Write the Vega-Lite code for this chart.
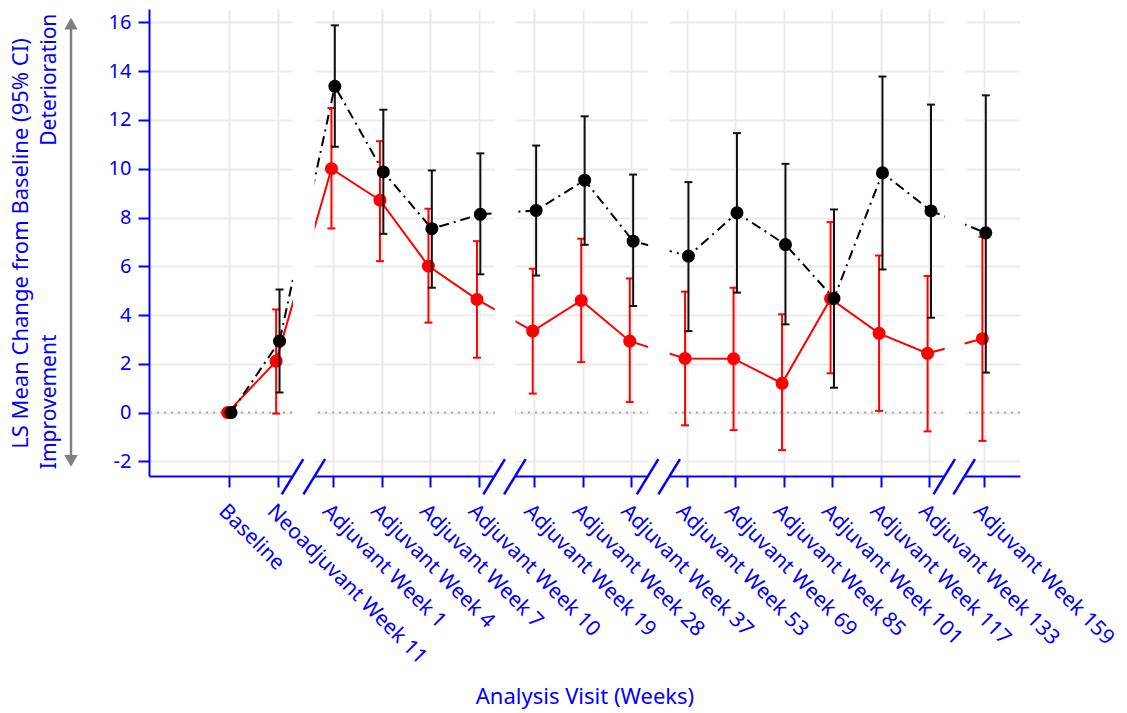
{
  "$schema": "https://vega.github.io/schema/vega-lite/v6.json",
  "width": 871,
  "height": 467,
  "autosize": {"type": "none"},
  "padding": {"left": 149, "top": 9, "right": 107, "bottom": 237},
  "config": {
    "view": {"stroke": null},
    "font": "Noto Sans",
    "axis": {
      "domainColor": "#0000ff", "domainWidth": 2,
      "tickColor": "#0000ff", "tickWidth": 2, "tickSize": 11,
      "labelColor": "#0000ff", "titleColor": "#0000ff",
      "labelFont": "Noto Sans", "titleFont": "Noto Sans",
      "labelFontSize": 20, "titleFontSize": 22, "titleFontWeight": "normal",
      "gridColor": "#ebebeb", "gridWidth": 2, "zindex": 0
    }
  },
  "datasets": {
    "visits": [
      {"visit": "Baseline", "pos": 0, "grp": "A", "mean": 0},
      {"visit": "Baseline", "pos": 0, "grp": "B", "mean": 0},
      {"visit": "Neoadjuvant Week 11", "pos": 1, "grp": "A", "mean": 2.11, "lo": -0.04, "hi": 4.23},
      {"visit": "Neoadjuvant Week 11", "pos": 1, "grp": "B", "mean": 2.93, "lo": 0.82, "hi": 5.05},
      {"visit": "Adjuvant Week 1", "pos": 2.14, "grp": "A", "mean": 10.0, "lo": 7.55, "hi": 12.49},
      {"visit": "Adjuvant Week 1", "pos": 2.14, "grp": "B", "mean": 13.38, "lo": 10.9, "hi": 15.88},
      {"visit": "Adjuvant Week 4", "pos": 3.14, "grp": "A", "mean": 8.71, "lo": 6.21, "hi": 11.13},
      {"visit": "Adjuvant Week 4", "pos": 3.14, "grp": "B", "mean": 9.87, "lo": 7.33, "hi": 12.42},
      {"visit": "Adjuvant Week 7", "pos": 4.14, "grp": "A", "mean": 6.01, "lo": 3.69, "hi": 8.36},
      {"visit": "Adjuvant Week 7", "pos": 4.14, "grp": "B", "mean": 7.54, "lo": 5.12, "hi": 9.93},
      {"visit": "Adjuvant Week 10", "pos": 5.14, "grp": "A", "mean": 4.64, "lo": 2.25, "hi": 7.03},
      {"visit": "Adjuvant Week 10", "pos": 5.14, "grp": "B", "mean": 8.13, "lo": 5.67, "hi": 10.63},
      {"visit": "Adjuvant Week 19", "pos": 6.29, "grp": "A", "mean": 3.34, "lo": 0.78, "hi": 5.9},
      {"visit": "Adjuvant Week 19", "pos": 6.29, "grp": "B", "mean": 8.29, "lo": 5.62, "hi": 10.95},
      {"visit": "Adjuvant Week 28", "pos": 7.29, "grp": "A", "mean": 4.6, "lo": 2.07, "hi": 7.13},
      {"visit": "Adjuvant Week 28", "pos": 7.29, "grp": "B", "mean": 9.53, "lo": 6.88, "hi": 12.15},
      {"visit": "Adjuvant Week 37", "pos": 8.29, "grp": "A", "mean": 2.93, "lo": 0.43, "hi": 5.5},
      {"visit": "Adjuvant Week 37", "pos": 8.29, "grp": "B", "mean": 7.03, "lo": 4.37, "hi": 9.76},
      {"visit": "Adjuvant Week 53", "pos": 9.43, "grp": "A", "mean": 2.22, "lo": -0.52, "hi": 4.96},
      {"visit": "Adjuvant Week 53", "pos": 9.43, "grp": "B", "mean": 6.42, "lo": 3.34, "hi": 9.45},
      {"visit": "Adjuvant Week 69", "pos": 10.43, "grp": "A", "mean": 2.21, "lo": -0.72, "hi": 5.12},
      {"visit": "Adjuvant Week 69", "pos": 10.43, "grp": "B", "mean": 8.19, "lo": 4.92, "hi": 11.46},
      {"visit": "Adjuvant Week 85", "pos": 11.43, "grp": "A", "mean": 1.2, "lo": -1.54, "hi": 4.03},
      {"visit": "Adjuvant Week 85", "pos": 11.43, "grp": "B", "mean": 6.89, "lo": 3.62, "hi": 10.2},
      {"visit": "Adjuvant Week 101", "pos": 12.43, "grp": "A", "mean": 4.67, "lo": 1.61, "hi": 7.81},
      {"visit": "Adjuvant Week 101", "pos": 12.43, "grp": "B", "mean": 4.68, "lo": 1.02, "hi": 8.33},
      {"visit": "Adjuvant Week 117", "pos": 13.43, "grp": "A", "mean": 3.25, "lo": 0.07, "hi": 6.44},
      {"visit": "Adjuvant Week 117", "pos": 13.43, "grp": "B", "mean": 9.83, "lo": 5.87, "hi": 13.78},
      {"visit": "Adjuvant Week 133", "pos": 14.43, "grp": "A", "mean": 2.43, "lo": -0.77, "hi": 5.6},
      {"visit": "Adjuvant Week 133", "pos": 14.43, "grp": "B", "mean": 8.27, "lo": 3.89, "hi": 12.63},
      {"visit": "Adjuvant Week 159", "pos": 15.56, "grp": "A", "mean": 3.03, "lo": -1.16, "hi": 7.21},
      {"visit": "Adjuvant Week 159", "pos": 15.56, "grp": "B", "mean": 7.37, "lo": 1.64, "hi": 13.01}
    ],
    "gaps": [
      {"g0": 1.313, "g1": 1.761},
      {"g0": 5.47, "g1": 5.897},
      {"g0": 8.633, "g1": 9.078},
      {"g0": 14.748, "g1": 15.16}
    ],
    "slashes": [
      {"s0": 1.08, "s1": 1.525}, {"s0": 1.528, "s1": 1.973},
      {"s0": 5.237, "s1": 5.682}, {"s0": 5.664, "s1": 6.109},
      {"s0": 8.4, "s1": 8.845}, {"s0": 8.845, "s1": 9.29},
      {"s0": 14.515, "s1": 14.96}, {"s0": 14.927, "s1": 15.372}
    ]
  },
  "layer": [
    {
      "data": {"values": [{"ref": 0}]},
      "mark": {"type": "rule", "color": "#a6a6a6", "strokeDash": [2, 5], "strokeWidth": 2},
      "encoding": {
        "y": {"field": "ref", "type": "quantitative", "scale": {"domain": [-2.6, 16.55], "nice": false, "zero": false},
          "axis": {"values": [-2, 0, 2, 4, 6, 8, 10, 12, 14, 16], "grid": true, "labelPadding": 7,
            "labelExpr": "'' + datum.value",
            "title": "LS Mean Change from Baseline (95% CI)", "titleX": -129, "titleY": 234, "titleAngle": 270,
            "titleAlign": "center", "titleBaseline": "middle"}}
      }
    },
    {
      "data": {"name": "visits"},
      "transform": [{"filter": "datum.grp === 'A'"}],
      "mark": {"type": "line", "color": "#ff0000", "strokeWidth": 2, "xOffset": -1.7},
      "encoding": {
        "x": {"field": "pos", "type": "quantitative", "scale": {"domain": [-1.656, 16.3], "nice": false, "zero": false},
          "axis": {"values": [0, 1, 2.14, 3.14, 4.14, 5.14, 6.29, 7.29, 8.29, 9.43, 10.43, 11.43, 12.43, 13.43, 14.43, 15.56],
            "labelExpr": "['Baseline','Neoadjuvant Week 11','Adjuvant Week 1','Adjuvant Week 4','Adjuvant Week 7','Adjuvant Week 10','Adjuvant Week 19','Adjuvant Week 28','Adjuvant Week 37','Adjuvant Week 53','Adjuvant Week 69','Adjuvant Week 85','Adjuvant Week 101','Adjuvant Week 117','Adjuvant Week 133','Adjuvant Week 159'][indexof([0,1,2.14,3.14,4.14,5.14,6.29,7.29,8.29,9.43,10.43,11.43,12.43,13.43,14.43,15.56], datum.value)]",
            "labelAngle": 45, "labelAlign": "left", "labelBaseline": "top", "labelPadding": 13, "labelDx": 2, "labelLimit": 0, "labelFontSize": 21,
            "labelOverlap": false, "labelFlush": false, "labelBound": false, "grid": true,
            "title": "Analysis Visit (Weeks)", "titleX": 435.5, "titleY": 220, "titleBaseline": "middle", "titleAlign": "center"}},
        "y": {"field": "mean", "type": "quantitative", "scale": {"domain": [-2.6, 16.55], "nice": false, "zero": false}},
        "order": {"field": "pos", "type": "quantitative"}
      }
    },
    {
      "data": {"name": "visits"},
      "transform": [{"filter": "datum.grp === 'B'"}],
      "mark": {"type": "line", "color": "#000000", "strokeWidth": 2, "strokeDash": [10, 5, 2, 5], "xOffset": 1.7},
      "encoding": {
        "x": {"field": "pos", "type": "quantitative", "scale": {"domain": [-1.656, 16.3], "nice": false, "zero": false}},
        "y": {"field": "mean", "type": "quantitative", "scale": {"domain": [-2.6, 16.55], "nice": false, "zero": false}},
        "order": {"field": "pos", "type": "quantitative"}
      }
    },
    {
      "data": {"name": "gaps"},
      "mark": {"type": "rect", "color": "#ffffff", "strokeWidth": 0},
      "encoding": {
        "x": {"field": "g0", "type": "quantitative", "scale": {"domain": [-1.656, 16.3], "nice": false, "zero": false}},
        "x2": {"field": "g1"},
        "y": {"datum": -2.8, "type": "quantitative", "scale": {"domain": [-2.6, 16.55], "nice": false, "zero": false}},
        "y2": {"datum": 16.6}
      }
    },
    {
      "data": {"name": "visits"},
      "transform": [{"filter": "datum.grp === 'A' && isValid(datum.lo)"}],
      "layer": [
        {"mark": {"type": "rule", "color": "#ff0000", "strokeWidth": 2, "xOffset": -1.7},
          "encoding": {"y": {"field": "lo", "type": "quantitative", "scale": {"domain": [-2.6, 16.55], "nice": false, "zero": false}}, "y2": {"field": "hi"}}},
        {"mark": {"type": "tick", "orient": "horizontal", "color": "#ff0000", "size": 8, "thickness": 2, "xOffset": -1.7, "opacity": 1},
          "encoding": {"y": {"field": "lo", "type": "quantitative", "scale": {"domain": [-2.6, 16.55], "nice": false, "zero": false}}}},
        {"mark": {"type": "tick", "orient": "horizontal", "color": "#ff0000", "size": 8, "thickness": 2, "xOffset": -1.7, "opacity": 1},
          "encoding": {"y": {"field": "hi", "type": "quantitative", "scale": {"domain": [-2.6, 16.55], "nice": false, "zero": false}}}}
      ],
      "encoding": {
        "x": {"field": "pos", "type": "quantitative", "scale": {"domain": [-1.656, 16.3], "nice": false, "zero": false}}
      }
    },
    {
      "data": {"name": "visits"},
      "transform": [{"filter": "datum.grp === 'A'"}],
      "mark": {"type": "circle", "color": "#ff0000", "size": 170, "opacity": 1, "xOffset": -1.7},
      "encoding": {
        "x": {"field": "pos", "type": "quantitative", "scale": {"domain": [-1.656, 16.3], "nice": false, "zero": false}},
        "y": {"field": "mean", "type": "quantitative", "scale": {"domain": [-2.6, 16.55], "nice": false, "zero": false}}
      }
    },
    {
      "data": {"name": "visits"},
      "transform": [{"filter": "datum.grp === 'B' && isValid(datum.lo)"}],
      "layer": [
        {"mark": {"type": "rule", "color": "#111111", "strokeWidth": 2, "xOffset": 1.7},
          "encoding": {"y": {"field": "lo", "type": "quantitative", "scale": {"domain": [-2.6, 16.55], "nice": false, "zero": false}}, "y2": {"field": "hi"}}},
        {"mark": {"type": "tick", "orient": "horizontal", "color": "#111111", "size": 8, "thickness": 2, "xOffset": 1.7, "opacity": 1},
          "encoding": {"y": {"field": "lo", "type": "quantitative", "scale": {"domain": [-2.6, 16.55], "nice": false, "zero": false}}}},
        {"mark": {"type": "tick", "orient": "horizontal", "color": "#111111", "size": 8, "thickness": 2, "xOffset": 1.7, "opacity": 1},
          "encoding": {"y": {"field": "hi", "type": "quantitative", "scale": {"domain": [-2.6, 16.55], "nice": false, "zero": false}}}}
      ],
      "encoding": {
        "x": {"field": "pos", "type": "quantitative", "scale": {"domain": [-1.656, 16.3], "nice": false, "zero": false}}
      }
    },
    {
      "data": {"name": "visits"},
      "transform": [{"filter": "datum.grp === 'B'"}],
      "mark": {"type": "circle", "color": "#000000", "size": 170, "opacity": 1, "xOffset": 1.7},
      "encoding": {
        "x": {"field": "pos", "type": "quantitative", "scale": {"domain": [-1.656, 16.3], "nice": false, "zero": false}},
        "y": {"field": "mean", "type": "quantitative", "scale": {"domain": [-2.6, 16.55], "nice": false, "zero": false}}
      }
    },
    {
      "data": {"name": "slashes"},
      "mark": {"type": "rule", "color": "#0000ff", "strokeWidth": 2.5},
      "encoding": {
        "x": {"field": "s0", "type": "quantitative", "scale": {"domain": [-1.656, 16.3], "nice": false, "zero": false}},
        "x2": {"field": "s1"},
        "y": {"datum": -3.35, "type": "quantitative", "scale": {"domain": [-2.6, 16.55], "nice": false, "zero": false}},
        "y2": {"datum": -1.91}
      }
    },
    {
      "data": {"values": [{}]},
      "mark": {"type": "text", "text": "Deterioration", "angle": 270, "color": "#0000ff", "fontSize": 21, "align": "center", "baseline": "middle"},
      "encoding": {
        "x": {"datum": -3.695, "type": "quantitative", "scale": {"domain": [-1.656, 16.3], "nice": false, "zero": false}},
        "y": {"datum": 13.65, "type": "quantitative", "scale": {"domain": [-2.6, 16.55], "nice": false, "zero": false}}
      }
    },
    {
      "data": {"values": [{}]},
      "mark": {"type": "text", "text": "Improvement", "angle": 270, "color": "#0000ff", "fontSize": 21, "align": "center", "baseline": "middle"},
      "encoding": {
        "x": {"datum": -3.695, "type": "quantitative", "scale": {"domain": [-1.656, 16.3], "nice": false, "zero": false}},
        "y": {"datum": 0.44, "type": "quantitative", "scale": {"domain": [-2.6, 16.55], "nice": false, "zero": false}}
      }
    },
    {
      "data": {"values": [{}]},
      "mark": {"type": "rule", "color": "#808080", "strokeWidth": 2.5},
      "encoding": {
        "x": {"datum": -3.264, "type": "quantitative", "scale": {"domain": [-1.656, 16.3], "nice": false, "zero": false}},
        "y": {"datum": 16.0, "type": "quantitative", "scale": {"domain": [-2.6, 16.55], "nice": false, "zero": false}},
        "y2": {"datum": -2.0}
      }
    },
    {
      "data": {"values": [{}]},
      "mark": {"type": "point", "shape": "triangle-up", "filled": true, "color": "#808080", "size": 180, "opacity": 1},
      "encoding": {
        "x": {"datum": -3.264, "type": "quantitative", "scale": {"domain": [-1.656, 16.3], "nice": false, "zero": false}},
        "y": {"datum": 15.95, "type": "quantitative", "scale": {"domain": [-2.6, 16.55], "nice": false, "zero": false}}
      }
    },
    {
      "data": {"values": [{}]},
      "mark": {"type": "point", "shape": "triangle-down", "filled": true, "color": "#808080", "size": 180, "opacity": 1},
      "encoding": {
        "x": {"datum": -3.264, "type": "quantitative", "scale": {"domain": [-1.656, 16.3], "nice": false, "zero": false}},
        "y": {"datum": -1.98, "type": "quantitative", "scale": {"domain": [-2.6, 16.55], "nice": false, "zero": false}}
      }
    }
  ]
}
